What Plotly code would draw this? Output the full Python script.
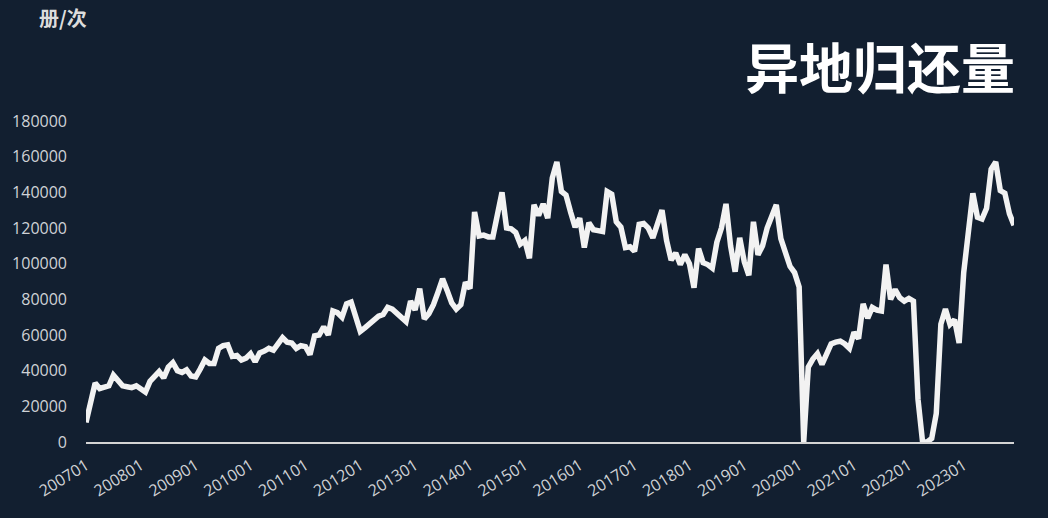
import plotly.graph_objects as go

# monthly returns, 200701 .. 202312
vals_2007_2009 = [11000, 22000, 33000, 30000, 30500, 31500, 37500, 35000, 31500, 31000, 30500, 31500,
                  29500, 28000, 34000, 37000, 39500, 36000, 42000, 44500, 40000, 39000, 40500, 37000,
                  36500, 41000, 46000, 44000, 44000, 52500, 54000, 54500, 48000, 48500, 46000, 47000]
vals_2010_2012 = [49500, 45000, 50000, 51000, 52500, 51500, 55000, 58500, 56000, 55500, 52500, 54000,
                  53500, 49000, 59500, 60000, 64500, 60000, 73500, 72500, 70000, 77500, 78500, 70000,
                  62000, 64000, 66500, 69000, 70500, 71500, 75500, 74500, 72000, 69000, 67500, 79000]
vals_2013_2015 = [74000, 86000, 69000, 72000, 77000, 84000, 91500, 85000, 78000, 74500, 77000, 89500,
                  86000, 129000, 115500, 116000, 115000, 115000, 128000, 140000, 120000, 119500, 117500, 111000,
                  113000, 103000, 133000, 127000, 133500, 125500, 148000, 157000, 140500, 138500, 129000, 120500]
vals_2016_2018 = [125500, 109000, 123000, 119000, 118500, 118000, 140500, 139000, 123500, 120500, 109000, 109500,
                  107000, 122000, 122500, 120000, 114500, 122000, 130000, 113000, 102000, 106000, 99500, 105000,
                  100000, 86500, 108500, 100500, 99500, 97500, 112000, 120000, 133500, 110000, 95500, 114500]
vals_2019_2021 = [101000, 93500, 123500, 105000, 110000, 120000, 126000, 133000, 114000, 105000, 98500, 95000,
                  87000, 0, 42000, 46500, 49500, 43500, 50000, 55000, 56000, 56500, 55000, 52500,
                  61500, 58000, 77500, 69500, 75500, 74000, 73500, 99500, 80000, 85500, 81000, 79000]
vals_2022_2023 = [80500, 79000, 24000, 0, 0, 2000, 16000, 66000, 74500, 66000, 68500, 55500,
                  95000, 118000, 139500, 126000, 125000, 131000, 153000, 157000, 141000, 139500, 128000, 121500]

values = vals_2007_2009 + vals_2010_2012 + vals_2013_2015 + vals_2016_2018 + vals_2019_2021 + vals_2022_2023
months = [f"{y}{m:02d}" for y in range(2007, 2024) for m in range(1, 13)][:len(values)]
tick_labels = [m for m in months if m.endswith("01")]

BG = "#121f30"

fig = go.Figure(go.Scatter(
    x=months, y=values, mode="lines",
    line=dict(color="#f2f2f2", width=5.5),
    hoverinfo="x+y",
))

fig.update_layout(
    width=1048, height=518,
    paper_bgcolor=BG, plot_bgcolor=BG,
    margin=dict(l=80, r=34, t=121, b=76),
    showlegend=False,
    font=dict(family="Open Sans, sans-serif", color="#cfd2d6", size=16),
    xaxis=dict(
        type="category", range=[0, len(values) - 1],
        tickmode="array", tickvals=tick_labels, ticktext=tick_labels,
        tickangle=-32, showgrid=False, zeroline=False,
        showline=True, linecolor="#d4d4d4", linewidth=2,
        ticks="", ticklabelstandoff=6,
        tickfont=dict(size=16, color="#cfd2d6"),
    ),
    yaxis=dict(
        range=[0, 180000], tickmode="linear", tick0=0, dtick=20000,
        tickformat="d",
        showgrid=False, zeroline=False, showline=False,
        ticks="", ticklabelstandoff=18,
        tickfont=dict(size=16, color="#cfd2d6"),
    ),
    annotations=[
        dict(text="<b>异地归还量</b>", xref="paper", yref="paper", x=1.003, y=1.172,
             xanchor="right", yanchor="middle", showarrow=False,
             font=dict(family="Noto Sans CJK SC", size=54, color="#ffffff")),
        dict(text="<b>册/次</b>", xref="paper", yref="paper", x=-0.0246, y=1.321,
             xanchor="center", yanchor="middle", showarrow=False,
             font=dict(family="Noto Sans CJK SC", size=20, color="#dcdcdc")),
    ],
)

fig.write_html("out.html", config={"displayModeBar": False},
               post_script="document.body.style.margin='0';")
